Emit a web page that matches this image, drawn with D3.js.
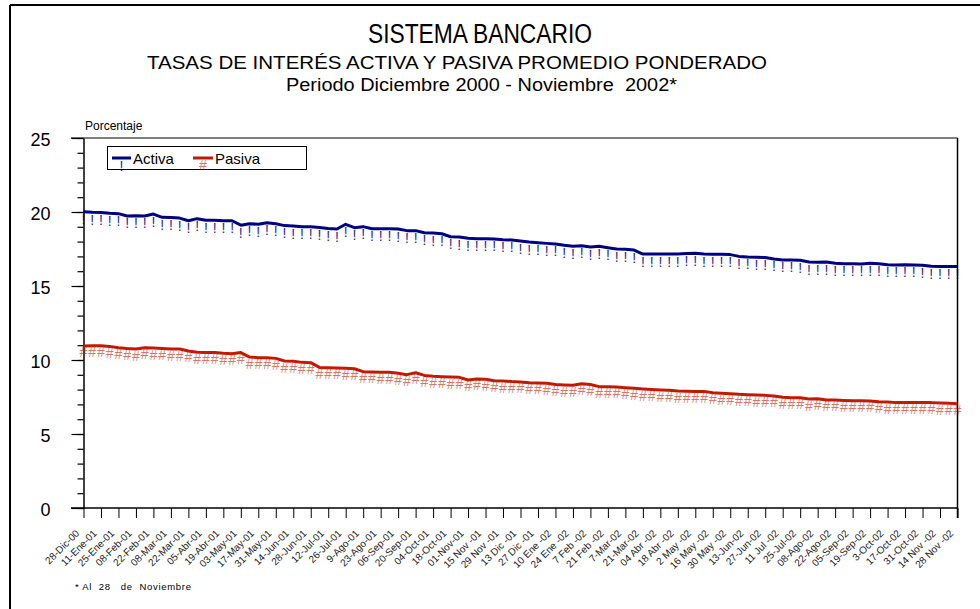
<script src="https://cdn.jsdelivr.net/npm/d3@7"></script>
<style>
  body { margin: 0; background: #fff; }
  svg text { font-family: "Liberation Sans", Arial, sans-serif; }
</style>
<svg width="980" height="609"></svg>
<script>
  // Tick labels, one every two weeks (28-Dic-00 ... 28-Nov-02)
  const tickLabels = ['28-Dic-00', '11-Ene-01', '25-Ene-01', '08-Feb-01', '22-Feb-01', '08-Mar-01',
    '22-Mar-01', '05-Abr-01', '19-Abr-01', '03-May-01', '17-May-01', '31-May-01', '14-Jun-01',
    '28-Jun-01', '12-Jul-01', '26-Jul-01', '9-Ago-01', '23-Ago-01', '06-Sep-01', '20-Sep-01',
    '04-Oct-01', '18-Oct-01', '01-Nov-01', '15 Nov -01', '29 Nov -01', '13 Dic -01', '27 Dic -01',
    '10 Ene -02', '24 Ene -02', '7 Feb -02', '21 Feb -02', '7-Mar-02', '21-Mar-02', '04 Abr -02',
    '18 Abr -02', '2 May -02', '16 May -02', '30 May -02', '13-Jun-02', '27-Jun-02', '11 Jul -02',
    '25-Jul-02', '08-Ago-02', '22-Ago-02', '05-Sep-02', '19-Sep-02', '3-Oct-02', '17-Oct-02',
    '31-Oct-02', '14 Nov -02', '28 Nov -02'];

  // Weekly rates (%), 101 weeks
  const activa = [20.02, 19.98, 19.96, 19.91, 19.89, 19.73, 19.75, 19.73, 19.86, 19.64,
    19.62, 19.59, 19.41, 19.55, 19.44, 19.44, 19.41, 19.41, 19.11, 19.21,
    19.17, 19.28, 19.21, 19.08, 19.05, 19.01, 19.01, 18.96, 18.89, 18.85,
    19.17, 18.94, 19.01, 18.87, 18.87, 18.87, 18.85, 18.74, 18.74, 18.60,
    18.58, 18.53, 18.33, 18.31, 18.22, 18.20, 18.20, 18.18, 18.13, 18.11,
    18.04, 17.97, 17.93, 17.88, 17.84, 17.75, 17.68, 17.72, 17.63, 17.68,
    17.59, 17.50, 17.48, 17.43, 17.16, 17.16, 17.16, 17.16, 17.16, 17.19,
    17.21, 17.16, 17.14, 17.14, 17.12, 17.00, 16.96, 16.94, 16.92, 16.83,
    16.76, 16.76, 16.74, 16.62, 16.60, 16.62, 16.53, 16.51, 16.51, 16.49,
    16.53, 16.51, 16.44, 16.42, 16.44, 16.42, 16.40, 16.33, 16.31, 16.31, 16.31];

  const pasiva = [10.95, 10.97, 10.97, 10.92, 10.83, 10.77, 10.74, 10.83, 10.81, 10.77,
    10.74, 10.74, 10.61, 10.52, 10.50, 10.50, 10.45, 10.43, 10.50, 10.20,
    10.16, 10.16, 10.11, 9.93, 9.91, 9.84, 9.82, 9.50, 9.48, 9.46,
    9.44, 9.41, 9.21, 9.19, 9.18, 9.17, 9.10, 9.01, 9.14, 8.96,
    8.90, 8.87, 8.85, 8.83, 8.65, 8.72, 8.70, 8.60, 8.58, 8.54,
    8.52, 8.47, 8.45, 8.43, 8.34, 8.31, 8.29, 8.40, 8.34, 8.20,
    8.20, 8.18, 8.13, 8.09, 8.04, 8.00, 7.97, 7.95, 7.90, 7.89,
    7.88, 7.88, 7.79, 7.75, 7.72, 7.68, 7.66, 7.63, 7.61, 7.57,
    7.48, 7.45, 7.45, 7.36, 7.38, 7.30, 7.30, 7.27, 7.25, 7.25,
    7.23, 7.18, 7.16, 7.12, 7.12, 7.12, 7.12, 7.12, 7.09, 7.07, 7.05];

  const yMajor = [0, 5, 10, 15, 20, 25];

  const blue = '#000080';
  const red = '#c21a00';

  const svg = d3.select('svg');

  const x = d3.scaleLinear().domain([0, activa.length - 1]).range([83.5, 957.5]);
  const y = d3.scaleLinear().domain([0, 25]).range([508, 138]);

  // outer frame (only top and left visible)
  svg.append('line').attr('x1', 10).attr('x2', 980).attr('y1', 5).attr('y2', 5)
    .attr('stroke', 'black').attr('stroke-width', 2);
  svg.append('line').attr('x1', 10).attr('x2', 10).attr('y1', 5).attr('y2', 609)
    .attr('stroke', 'black').attr('stroke-width', 2);

  // titles (narrow face in the original, so squeeze to the measured widths)
  function title(txt, cx, by, size, len) {
    svg.append('text').attr('x', cx - len / 2).attr('y', by)
      .attr('textLength', len).attr('lengthAdjust', 'spacingAndGlyphs')
      .style('font-size', size + 'px').style('white-space', 'pre').text(txt);
  }
  title('SISTEMA BANCARIO', 480, 43, 27, 224);
  title('TASAS DE INTERÉS ACTIVA Y PASIVA PROMEDIO PONDERADO', 457, 69, 19, 620);
  title('Periodo Diciembre 2000 - Noviembre  2002*', 481.5, 91, 17.5, 391);

  svg.append('text').attr('x', 85).attr('y', 130).style('font-size', '12px').text('Porcentaje');
  svg.append('text').attr('x', 75).attr('y', 590).style('font-size', '9.5px').style('white-space', 'pre')
    .attr('textLength', 116).attr('lengthAdjust', 'spacing')
    .text('* Al  28   de  Noviembre');

  // plot frame top and right
  svg.append('line').attr('x1', 71).attr('x2', 957.5).attr('y1', y(25)).attr('y2', y(25))
    .attr('stroke', '#555').attr('stroke-width', 1.5);
  svg.append('line').attr('x1', 957.5).attr('x2', 957.5).attr('y1', y(25)).attr('y2', 518)
    .attr('stroke', 'black').attr('stroke-width', 1.5);

  // y axis: minor then major
  svg.append('g').attr('transform', 'translate(83.5,0)')
    .call(d3.axisLeft(y).tickValues(d3.range(0, 26)).tickSize(6).tickFormat(''))
    .call(g => g.select('.domain').remove());
  const yAxis = svg.append('g').attr('transform', 'translate(83.5,0)')
    .call(d3.axisLeft(y).tickValues(yMajor).tickSize(12).tickPadding(21).tickSizeOuter(0));
  yAxis.selectAll('text').style('font-size', '18px').attr('dy', '0.4em')
    .style('font-family', '"Liberation Sans", Arial, sans-serif');
  svg.selectAll('.tick line').attr('stroke-width', 1.2);
  yAxis.select('.domain').attr('stroke-width', 1.5);

  // x axis
  const xAxis = svg.append('g').attr('transform', 'translate(0,508)')
    .call(d3.axisBottom(x).tickValues(d3.range(0, activa.length, 2))
      .tickSize(10).tickSizeOuter(0).tickFormat((d, i) => tickLabels[i]));
  xAxis.select('.domain').attr('d', 'M71,0H957.5').attr('stroke-width', 1.5);
  xAxis.selectAll('text')
    .style('font-size', '10px').style('fill', '#222')
    .style('font-family', '"Liberation Sans", Arial, sans-serif')
    .attr('text-anchor', 'end')
    .attr('transform', 'translate(-4,26) rotate(-45)')
    .attr('y', 0).attr('dy', 0);

  // series
  const line = d3.line().x((d, i) => x(i)).y(d => y(d));

  function drawSeries(data, color, glyph, size, dy, op) {
    svg.append('g').selectAll('text').data(data).join('text')
      .attr('x', (d, i) => x(i)).attr('y', d => y(d) + dy)
      .attr('text-anchor', 'middle')
      .style('font-size', size + 'px').style('fill', color).style('opacity', op)
      .text(glyph);
    svg.append('path').datum(data).attr('d', line)
      .attr('fill', 'none').attr('stroke', color).attr('stroke-width', 3)
      .attr('stroke-linejoin', 'round');
  }
  drawSeries(activa, blue, '!', 14, 12.5, 0.85);
  drawSeries(pasiva, red, '#', 14, 11.5, 0.6);

  // legend
  const lg = svg.append('g');
  lg.append('rect').attr('x', 107.5).attr('y', 146.5).attr('width', 199).attr('height', 23)
    .attr('fill', 'white').attr('stroke', 'black').attr('stroke-width', 1);
  const legendItems = [
    { name: 'Activa', color: blue, glyph: '!', size: 14, dy: 12.5, op: 0.85, x0: 112, x1: 131 },
    { name: 'Pasiva', color: red, glyph: '#', size: 14, dy: 11.5, op: 0.6, x0: 193, x1: 213 }
  ];
  legendItems.forEach(it => {
    lg.append('text').attr('x', (it.x0 + it.x1) / 2).attr('y', 158 + it.dy)
      .attr('text-anchor', 'middle').style('font-size', it.size + 'px')
      .style('fill', it.color).style('opacity', it.op).text(it.glyph);
    lg.append('line').attr('x1', it.x0).attr('x2', it.x1).attr('y1', 158).attr('y2', 158)
      .attr('stroke', it.color).attr('stroke-width', 3);
    lg.append('text').attr('x', it.x1 + 2).attr('y', 163.5).style('font-size', '15px').text(it.name);
  });
</script>
